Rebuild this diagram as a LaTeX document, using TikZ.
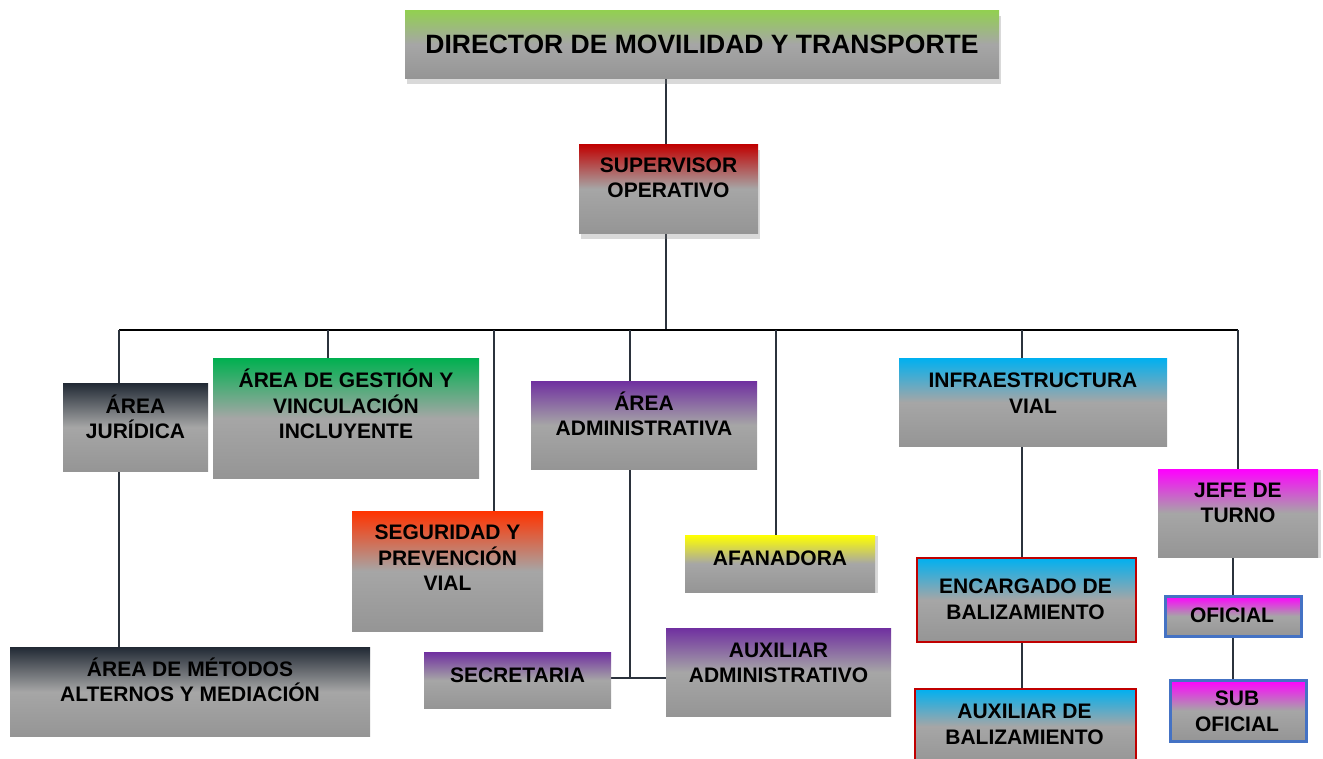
\documentclass[tikz,border=0pt]{standalone}
\usepackage{fontspec}
\setmainfont{Liberation Sans}
\usetikzlibrary{positioning,shadows,backgrounds}
\definecolor{dirgreen}{HTML}{92D050}
\definecolor{supred}{HTML}{C00000}
\definecolor{jurnavy}{HTML}{222A35}
\definecolor{gesgreen}{HTML}{00B050}
\definecolor{admpurple}{HTML}{7030A0}
\definecolor{segorange}{HTML}{FF3300}
\definecolor{afayellow}{HTML}{FFFF00}
\definecolor{infblue}{HTML}{00B0F0}
\definecolor{jefmagenta}{HTML}{FF00FF}
\definecolor{boxgray}{HTML}{A6A6A6}
\definecolor{boxgraydark}{HTML}{959595}
\definecolor{linkgray}{HTML}{2B323C}
\definecolor{rimred}{HTML}{C00000}
\definecolor{rimblue}{HTML}{4472C4}
\tikzset{unit/.style={
	rectangle,
	anchor=north west,
	inner sep=0pt,
	top color=#1,
	bottom color=boxgraydark,
	middle color=boxgray
}}
\tikzstyle{unittext}=[
	align=center,
	inner sep=0pt,
	font=\bfseries\fontsize{21}{25.5}\selectfont
]
\tikzstyle{lifted}=[
	drop shadow={shadow xshift=2pt, shadow yshift=-6pt, opacity=.3, fill=gray}
]
\tikzstyle{nudged}=[
	drop shadow={shadow xshift=3pt, shadow yshift=-1pt, opacity=.3, fill=gray}
]
\tikzstyle{redrim}=[draw=rimred, line width=2pt]
\tikzstyle{bluerim}=[draw=rimblue, line width=2.5pt]
\tikzstyle{link}=[draw=linkgray, line width=2pt]

\begin{document}
\begin{tikzpicture}[x=1pt, y=-1pt]
\useasboundingbox (0,0) rectangle (1323,758);

% top of the chart
\node [unit=dirgreen, lifted, minimum width=594pt, minimum height=68pt] (Director) at (405,10) {};
\node [unittext, font=\bfseries\fontsize{26.5}{30}\selectfont] (DirectorText) at (702,44) {DIRECTOR DE MOVILIDAD Y TRANSPORTE};
\node [unit=supred, lifted, minimum width=179pt, minimum height=89pt] (Supervisor) at (579,144) {};
\node [unittext] (SupervisorText) at (668.5,178) {SUPERVISOR\\OPERATIVO};

% first row
\node [unit=jurnavy, minimum width=145pt, minimum height=88pt] (AreaJuridica) at (63,383) {};
\node [unittext] (AreaJuridicaText) at (135.5,417) {ÁREA\\JURÍDICA};
\node [unit=gesgreen, minimum width=266pt, minimum height=120pt] (AreaGestion) at (213,358) {};
\node [unittext] (AreaGestionText) at (346,404) {ÁREA DE GESTIÓN Y\\VINCULACIÓN\\INCLUYENTE};
\node [unit=admpurple, minimum width=226pt, minimum height=88pt] (AreaAdmin) at (531,381) {};
\node [unittext] (AreaAdminText) at (644,414) {ÁREA\\ADMINISTRATIVA};
\node [unit=infblue, minimum width=268pt, minimum height=88pt] (Infraestructura) at (899,358) {};
\node [unittext] (InfraestructuraText) at (1033,393) {INFRAESTRUCTURA\\VIAL};
\node [unit=jefmagenta, nudged, minimum width=160pt, minimum height=88pt] (JefeTurno) at (1158,469) {};
\node [unittext] (JefeTurnoText) at (1238,503) {JEFE DE\\TURNO};

% second row
\node [unit=segorange, minimum width=191pt, minimum height=120pt] (Seguridad) at (352,511) {};
\node [unittext] (SeguridadText) at (447.5,558) {SEGURIDAD Y\\PREVENCIÓN\\VIAL};
\node [unit=afayellow, nudged, minimum width=190pt, minimum height=57pt] (Afanadora) at (685,535) {};
\node [unittext] (AfanadoraText) at (780,558) {AFANADORA};
\node [unit=infblue, redrim, minimum width=219pt, minimum height=84pt] (Encargado) at (916,557) {};
\node [unittext] (EncargadoText) at (1025.5,599.5) {ENCARGADO DE\\BALIZAMIENTO};
\node [unit=jefmagenta, bluerim, minimum width=136pt, minimum height=40pt] (Oficial) at (1164,595) {};
\node [unittext] (OficialText) at (1232,615) {OFICIAL};

% bottom row
\node [unit=jurnavy, minimum width=360pt, minimum height=89pt] (AreaMetodos) at (10,647) {};
\node [unittext] (AreaMetodosText) at (190,680) {ÁREA DE MÉTODOS\\ALTERNOS Y MEDIACIÓN};
\node [unit=admpurple, minimum width=187pt, minimum height=56pt] (Secretaria) at (424,652) {};
\node [unittext] (SecretariaText) at (517.5,675) {SECRETARIA};
\node [unit=admpurple, minimum width=225pt, minimum height=88pt] (AuxAdmin) at (666,628) {};
\node [unittext] (AuxAdminText) at (778.5,663) {AUXILIAR\\ADMINISTRATIVO};
\node [unit=infblue, redrim, minimum width=221pt, minimum height=75pt] (AuxBaliz) at (914,688) {};
\node [unittext] (AuxBalizText) at (1024.5,724.5) {AUXILIAR DE\\BALIZAMIENTO};
\node [unit=jefmagenta, bluerim, minimum width=136pt, minimum height=61pt] (SubOficial) at (1169,679) {};
\node [unittext] (SubOficialText) at (1237,711.5) {SUB\\OFICIAL};

% connectors
\coordinate (BarL) at (119,330);
\coordinate (BarM) at (666,330);
\coordinate (BarR) at (1238,330);
\coordinate (DropGes) at (328,330);
\coordinate (DropSeg) at (494,330);
\coordinate (DropAdm) at (630,330);
\coordinate (DropAfa) at (776,330);
\coordinate (DropInf) at (1022,330);
\coordinate (JoinAdm) at (630,678);
\begin{scope}[on background layer]
\draw [link] (Supervisor.north -| BarM) -- (Director.south -| BarM);
\draw [link] (Supervisor.south -| BarM) -- (BarM);
\draw [line width=1.5pt] (BarL) -- (BarR);
\draw [link] (BarL) -- (AreaJuridica.north -| BarL);
\draw [link] (DropGes) -- (AreaGestion.north -| DropGes);
\draw [link] (DropSeg) -- (Seguridad.north -| DropSeg);
\draw [link] (DropAdm) -- (AreaAdmin.north -| DropAdm);
\draw [link] (DropAfa) -- (Afanadora.north -| DropAfa);
\draw [link] (DropInf) -- (Infraestructura.north -| DropInf);
\draw [link] (BarR) -- (JefeTurno.north -| BarR);
\draw [link] (AreaJuridica.south -| BarL) -- (AreaMetodos.north -| BarL);
\draw [link] (AreaAdmin.south -| JoinAdm) -- (JoinAdm);
\draw [link] (Secretaria.east |- JoinAdm) -- (AuxAdmin.west |- JoinAdm);
\draw [link] (Infraestructura.south -| DropInf) -- (Encargado.north -| DropInf);
\draw [link] (Encargado.south -| DropInf) -- (AuxBaliz.north -| DropInf);
\draw [link] (JefeTurno.south -| Oficial.north) -- (Oficial.north);
\draw [link] (Oficial.south) -- (SubOficial.north -| Oficial.south);
\end{scope}
\end{tikzpicture}
\end{document}
